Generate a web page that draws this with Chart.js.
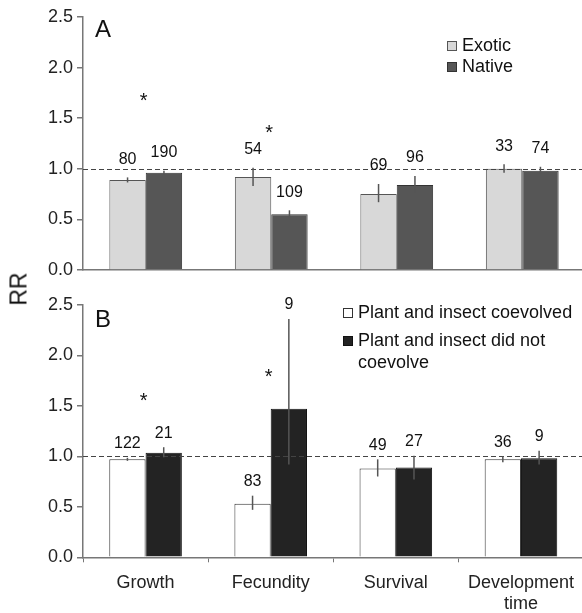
<!DOCTYPE html>
<html>
<head>
<meta charset="utf-8">
<script src="https://cdn.jsdelivr.net/npm/chart.js@4.4.1/dist/chart.umd.min.js"></script>
<style>
  html, body { margin: 0; padding: 0; background: #fff; overflow: hidden; }
  #wrap { position: relative; width: 582px; height: 613px; overflow: hidden; }
  canvas { position: absolute; left: 0; }
  #rr { position: absolute; left: 19px; top: 289px; transform: translate(-50%, -50%) rotate(-90deg);
        font: 23px 'Liberation Sans', Arial, sans-serif; color: #111; white-space: nowrap; }
</style>
</head>
<body>
<div id="wrap">
  <canvas id="panelA" width="585" height="290" style="top:0"></canvas>
  <canvas id="panelB" width="585" height="323" style="top:290px"></canvas>
  <div id="rr">RR</div>
</div>
<script>
// categories (x axis)
const categories = ['Growth', 'Fecundity', 'Survival', ['Development', 'time']]

// panel A: exotic vs native host plants
const exoticRR = [0.89, 0.92, 0.75, 1.00]
const exoticLow = [0.865, 0.83, 0.67, 0.96]
const exoticHigh = [0.915, 1.01, 0.85, 1.045]
const exoticN = [80, 54, 69, 33]
const nativeRR = [0.96, 0.55, 0.84, 0.98]
const nativeLow = [0.94, 0.52, 0.76, 0.95]
const nativeHigh = [0.98, 0.59, 0.93, 1.02]
const nativeN = [190, 109, 96, 74]
const starsA = [1.71, 1.39, null, null]

// panel B: coevolved vs not coevolved
const coevRR = [0.97, 0.53, 0.88, 0.97]
const coevLow = [0.955, 0.47, 0.80, 0.94]
const coevHigh = [0.985, 0.61, 0.97, 1.00]
const coevN = [122, 83, 49, 36]
const notCoevRR = [1.035, 1.47, 0.89, 0.98]
const notCoevLow = [0.99, 0.92, 0.77, 0.92]
const notCoevHigh = [1.09, 2.36, 1.005, 1.055]
const notCoevN = [21, 9, 27, 9]
const starsB = [1.59, 1.82, null, null]

const yTicks = [0, 0.5, 1.0, 1.5, 2.0, 2.5]

const FONT = "'Liberation Sans', Arial, sans-serif"
const AXIS = '#777'

// draws dashed line at RR=1, error bars, n labels, stars, panel letter and legend
const annotations = {
    id: 'annotations',
    afterDatasetsDraw(chart, args, opts) {
        const ctx = chart.ctx
        const y = chart.scales.y
        const area = chart.chartArea
        ctx.save()

        // reference line
        ctx.strokeStyle = '#444'
        ctx.lineWidth = 1
        ctx.setLineDash([5, 3])
        ctx.beginPath()
        ctx.moveTo(area.left, Math.round(y.getPixelForValue(1)) + 0.5)
        ctx.lineTo(area.right, Math.round(y.getPixelForValue(1)) + 0.5)
        ctx.stroke()
        ctx.setLineDash([])

        // error bars + sample sizes
        chart.data.datasets.forEach((ds, di) => {
            const meta = chart.getDatasetMeta(di)
            meta.data.forEach((bar, i) => {
                const top = y.getPixelForValue(ds.high[i])
                const bot = y.getPixelForValue(ds.low[i])
                ctx.strokeStyle = '#555'
                ctx.lineWidth = 1.5
                ctx.beginPath()
                ctx.moveTo(bar.x, top)
                ctx.lineTo(bar.x, bot)
                ctx.stroke()

                ctx.fillStyle = '#111'
                ctx.font = '16px ' + FONT
                ctx.textAlign = 'center'
                ctx.textBaseline = 'middle'
                ctx.fillText(String(ds.n[i]), bar.x, top - opts.nGap)
            })
        })

        // significance stars
        const x = chart.scales.x
        ctx.font = '20px ' + FONT
        ctx.textAlign = 'center'
        ctx.textBaseline = 'alphabetic'
        opts.stars.forEach((s, i) => {
            if (s == null) return
            ctx.fillText('*', x.getPixelForValue(i) - 2, y.getPixelForValue(s) + 10)
        })

        // panel letter
        ctx.font = '24px ' + FONT
        ctx.textAlign = 'left'
        ctx.textBaseline = 'middle'
        ctx.fillText(opts.letter, 95, 30)

        // legend
        ctx.font = '18px ' + FONT
        chart.data.datasets.forEach((ds, di) => {
            const cy = opts.legendY + opts.legendGap * di
            ctx.fillStyle = ds.backgroundColor
            ctx.fillRect(opts.legendX, cy - 5, 10, 10)
            ctx.strokeStyle = ds.borderColor
            ctx.lineWidth = 1
            ctx.strokeRect(opts.legendX + 0.5, cy - 4.5, 9, 9)
            ctx.fillStyle = '#111'
            opts.legendLines[di].forEach((t, k) => {
                ctx.fillText(t, opts.legendX + 15, cy + k * opts.wrapGap)
            })
        })
        ctx.restore()
    }
}

const make_chart = (el, datasets, cfg) => {
    return new Chart(el, {
        type: 'bar',
        data: {labels: categories, datasets: datasets},
        options: {
            responsive: false,
            animation: false,
            devicePixelRatio: 1,
            layout: {padding: {top: cfg.padTop, left: 0, right: 0, bottom: 0}},
            datasets: {bar: {categoryPercentage: 0.58, barPercentage: 1.0, borderWidth: 1}},
            plugins: {
                legend: {display: false},
                tooltip: {enabled: false},
                annotations: cfg.ann
            },
            scales: {
                x: {
                    grid: {display: cfg.showX, drawOnChartArea: false, tickLength: 5, color: AXIS, offset: true},
                    border: {color: AXIS, width: 1.5},
                    ticks: {display: cfg.showX, font: {size: 18, family: FONT, lineHeight: 1.12}, color: '#222', padding: 11, maxRotation: 0},
                    afterFit: s => { s.height = cfg.xHeight }
                },
                y: {
                    min: 0, max: 2.5,
                    afterBuildTicks: s => { s.ticks = yTicks.map(v => ({value: v})) },
                    ticks: {font: {size: 18, family: FONT}, color: '#222', padding: 4, callback: v => v.toFixed(1)},
                    grid: {drawOnChartArea: false, tickLength: 6, color: AXIS, lineWidth: 1.5},
                    border: {color: AXIS, width: 1.5},
                    afterFit: s => { s.width = 83 }
                }
            }
        },
        plugins: [annotations]
    })
}

make_chart(document.querySelector('#panelA'), [
    {label: 'Exotic', data: exoticRR, low: exoticLow, high: exoticHigh, n: exoticN,
     backgroundColor: '#d8d8d8', borderColor: '#555'},
    {label: 'Native', data: nativeRR, low: nativeLow, high: nativeHigh, n: nativeN,
     backgroundColor: '#565656', borderColor: '#333'}
], {
    padTop: 17, xHeight: 20, showX: false,
    ann: {letter: 'A', stars: starsA, nGap: 18, legendX: 447, legendY: 46, legendGap: 21, wrapGap: 22,
          legendLines: [['Exotic'], ['Native']]}
})

make_chart(document.querySelector('#panelB'), [
    {label: 'Plant and insect coevolved', data: coevRR, low: coevLow, high: coevHigh, n: coevN,
     backgroundColor: '#ffffff', borderColor: '#333'},
    {label: 'Plant and insect did not coevolve', data: notCoevRR, low: notCoevLow, high: notCoevHigh, n: notCoevN,
     backgroundColor: '#232323', borderColor: '#111'}
], {
    padTop: 14.7, xHeight: 55.7, showX: true,
    ann: {letter: 'B', stars: starsB, nGap: 14, legendX: 343, legendY: 23, legendGap: 28, wrapGap: 22,
          legendLines: [['Plant and insect coevolved'], ['Plant and insect did not', 'coevolve']]}
})
</script>
</body>
</html>
